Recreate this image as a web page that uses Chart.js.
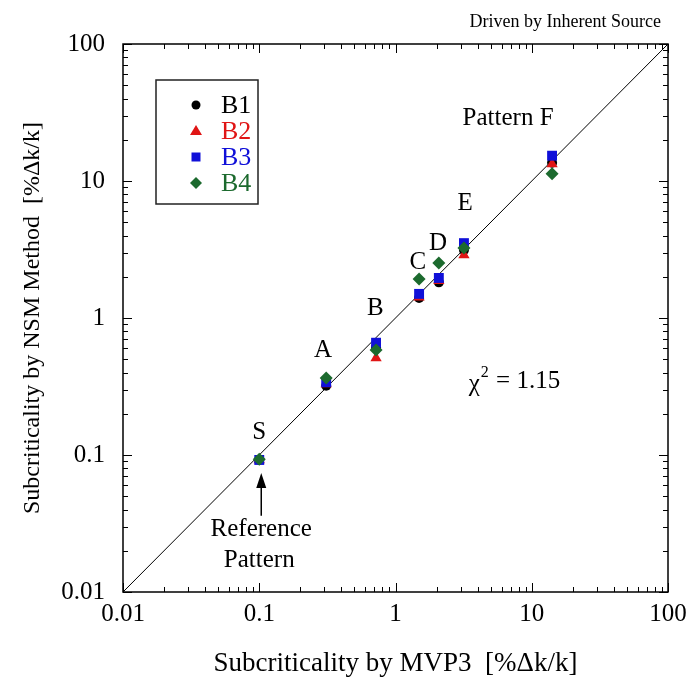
<!DOCTYPE html>
<html>
<head>
<meta charset="utf-8">
<script src="https://cdn.jsdelivr.net/npm/chart.js@4/dist/chart.umd.min.js"></script>
<style>
  html, body { margin: 0; padding: 0; background: #fff; }
  #wrap { width: 694px; height: 688px; }
</style>
</head>
<body>
<div id="wrap"><canvas id="myChart" width="694" height="688"></canvas></div>
<script>
// patterns and MVP3 subcriticality (x), NSM results per detector (y)
var patterns = ["S", "A", "B", "C", "D", "E", "F"];
var mvp3 = [0.1, 0.31, 0.72, 1.49, 2.08, 3.18, 14.1];
var b1 = [0.092, 0.32, 0.61, 1.40, 1.82, 3.13, 13.6];
var b2 = [0.092, 0.33, 0.51, 1.42, 1.87, 2.88, 13.3];
var b3 = [0.092, 0.34, 0.66, 1.50, 1.96, 3.52, 15.3];
var b4 = [0.093, 0.365, 0.585, 1.93, 2.52, 3.24, 11.3];
var tickLabels = ["0.01", "0.1", "1", "10", "100"];
var diag = [0.01, 100];

var seriesNames = ["B1", "B2", "B3", "B4"];
var seriesColors = ["#000000", "#e01515", "#1010d8", "#1c6a2e"];
var seriesStyles = ["circle", "triangle", "rect", "rectRot"];
var seriesRadius = [5, 6.5, 7, 6.5];

var FONT = "'Liberation Serif', 'Times New Roman', serif";

function pts(ys) {
  var out = [];
  for (var i = 0; i < ys.length; i++) out.push({x: mvp3[i], y: ys[i]});
  return out;
}

var allSeries = [b1, b2, b3, b4];
var datasets = [];
for (var s = 0; s < 4; s++) {
  datasets.push({
    type: "scatter",
    label: seriesNames[s],
    data: pts(allSeries[s]),
    pointStyle: seriesStyles[s],
    pointRadius: seriesRadius[s],
    backgroundColor: seriesColors[s],
    borderColor: seriesColors[s],
    borderWidth: 0,
    order: 5 - s
  });
}
datasets.push({
  type: "line",
  label: "y=x",
  data: [{x: diag[0], y: diag[0]}, {x: diag[1], y: diag[1]}],
  borderColor: "#000",
  borderWidth: 1,
  pointRadius: 0,
  fill: false,
  order: 10
});

function logTicks() {
  var t = [];
  for (var e = -2; e <= 1; e++) {
    for (var k = 1; k <= 9; k++) t.push({value: k * Math.pow(10, e)});
  }
  t.push({value: 100});
  return t;
}
function isDecade(v) {
  var l = Math.log10(v);
  return Math.abs(l - Math.round(l)) < 1e-9;
}
function decadeLabel(v) {
  var i = Math.round(Math.log10(v)) + 2;
  return tickLabels[i];
}

// annotation texts placed in data space
var labelText = ["S", "A", "B", "C", "D", "E", "Pattern F"];
var labelX = [0.1, 0.294, 0.71, 1.46, 2.05, 3.24, 6.7];
var labelY = [0.147, 0.58, 1.18, 2.56, 3.52, 6.9, 28.8];

var framePlugin = {
  id: "frame",
  afterDraw: function(chart) {
    var ctx = chart.ctx;
    var a = chart.chartArea;
    var xs = chart.scales.x, ys = chart.scales.y;
    ctx.save();
    ctx.strokeStyle = "#000";
    ctx.lineWidth = 1.5;
    ctx.strokeRect(a.left, a.top, a.right - a.left, a.bottom - a.top);
    ctx.lineWidth = 1;
    ctx.beginPath();
    xs.ticks.forEach(function(t) {
      var p = Math.round(xs.getPixelForValue(t.value)) + 0.5;
      var len = isDecade(t.value) ? 9 : 5;
      ctx.moveTo(p, a.bottom); ctx.lineTo(p, a.bottom - len);
      ctx.moveTo(p, a.top); ctx.lineTo(p, a.top + len);
    });
    ys.ticks.forEach(function(t) {
      var p = Math.round(ys.getPixelForValue(t.value)) + 0.5;
      var len = isDecade(t.value) ? 9 : 5;
      ctx.moveTo(a.left, p); ctx.lineTo(a.left + len, p);
      ctx.moveTo(a.right, p); ctx.lineTo(a.right - len, p);
    });
    ctx.stroke();

    // header
    ctx.fillStyle = "#000";
    ctx.font = "18px " + FONT;
    ctx.textAlign = "right";
    ctx.textBaseline = "middle";
    ctx.fillText("Driven by Inherent Source", a.right - 7, 22);

    // pattern letters
    ctx.font = "25px " + FONT;
    ctx.textAlign = "center";
    for (var i = 0; i < labelText.length; i++) {
      ctx.fillText(labelText[i], xs.getPixelForValue(labelX[i]), ys.getPixelForValue(labelY[i]));
    }

    // chi-square
    var cx = xs.getPixelForValue(3.45), cy = ys.getPixelForValue(0.345);
    ctx.textAlign = "left";
    ctx.font = "25px " + FONT;
    ctx.fillText("\u03c7", cx, cy + 3);
    var w = ctx.measureText("\u03c7").width;
    ctx.font = "16px " + FONT;
    ctx.fillText("2", cx + w + 1, cy - 9);
    ctx.font = "25px " + FONT;
    ctx.fillText(" = 1.15", cx + w + 10, cy);

    // reference pattern note and arrow
    var rx = xs.getPixelForValue(mvp3[0]) + 2;
    var tip = ys.getPixelForValue(0.074);
    var tail = ys.getPixelForValue(0.036);
    ctx.textAlign = "center";
    ctx.fillText("Reference", rx, ys.getPixelForValue(0.0285));
    ctx.fillText("Pattern", rx - 2, ys.getPixelForValue(0.0171));
    ctx.lineWidth = 1.5;
    ctx.beginPath();
    ctx.moveTo(rx, tail); ctx.lineTo(rx, tip + 10);
    ctx.stroke();
    ctx.beginPath();
    ctx.moveTo(rx, tip); ctx.lineTo(rx - 5, tip + 15); ctx.lineTo(rx + 5, tip + 15);
    ctx.closePath();
    ctx.fill();

    // legend box
    var lx = a.left + 33, ly = a.top + 36;
    ctx.lineWidth = 1.5;
    ctx.strokeStyle = "#222";
    ctx.strokeRect(lx, ly, 102, 124);
    ctx.font = "26px " + FONT;
    ctx.textAlign = "left";
    for (var s = 0; s < 4; s++) {
      var yy = ly + 25 + s * 26;
      drawMarker(ctx, seriesStyles[s], lx + 40, yy, seriesColors[s]);
      ctx.fillStyle = seriesColors[s];
      ctx.fillText(seriesNames[s], lx + 65, yy + 1);
    }
    ctx.restore();
  }
};

function drawMarker(ctx, style, x, y, color) {
  ctx.fillStyle = color;
  ctx.beginPath();
  if (style === "circle") {
    ctx.arc(x, y, 4.5, 0, Math.PI * 2);
  } else if (style === "triangle") {
    ctx.moveTo(x, y - 6); ctx.lineTo(x + 6, y + 4); ctx.lineTo(x - 6, y + 4);
  } else if (style === "rect") {
    ctx.rect(x - 4.5, y - 4.5, 9, 9);
  } else {
    ctx.moveTo(x, y - 6); ctx.lineTo(x + 6, y); ctx.lineTo(x, y + 6); ctx.lineTo(x - 6, y);
  }
  ctx.closePath();
  ctx.fill();
}

var ctx = document.getElementById("myChart");
var myChart = new Chart(ctx, {
  type: "scatter",
  data: { datasets: datasets },
  options: {
    responsive: false,
    animation: false,
    layout: { padding: { top: 44, right: 26, left: 0, bottom: 0 } },
    plugins: {
      legend: { display: false },
      title: { display: false },
      tooltip: { enabled: false }
    },
    scales: {
      x: {
        type: "logarithmic",
        min: 0.01, max: 100,
        afterBuildTicks: function(scale) { scale.ticks = logTicks(); },
        afterFit: function(scale) { scale.height = 96; },
        grid: { display: false, drawTicks: false },
        border: { display: false },
        ticks: {
          autoSkip: false, maxRotation: 0, padding: 7, color: "#000",
          font: { family: FONT, size: 25 },
          callback: function(v) { return isDecade(v) ? decadeLabel(v) : ""; }
        },
        title: {
          display: true, text: "Subcriticality by MVP3  [%\u0394k/k]",
          color: "#000", font: { family: FONT, size: 27 },
          padding: { top: 0, bottom: 8 }
        }
      },
      y: {
        type: "logarithmic",
        min: 0.01, max: 100,
        afterBuildTicks: function(scale) { scale.ticks = logTicks(); },
        afterFit: function(scale) { scale.width = 123; },
        grid: { display: false, drawTicks: false },
        border: { display: false },
        ticks: {
          autoSkip: false, padding: 18, color: "#000",
          font: { family: FONT, size: 25 },
          callback: function(v) { return isDecade(v) ? decadeLabel(v) : ""; }
        },
        title: {
          display: true, text: "Subcriticality by NSM Method  [%\u0394k/k]",
          color: "#000", font: { family: FONT, size: 24 },
          padding: { top: 18, bottom: 0 }
        }
      }
    }
  },
  plugins: [framePlugin]
});
</script>
</body>
</html>
